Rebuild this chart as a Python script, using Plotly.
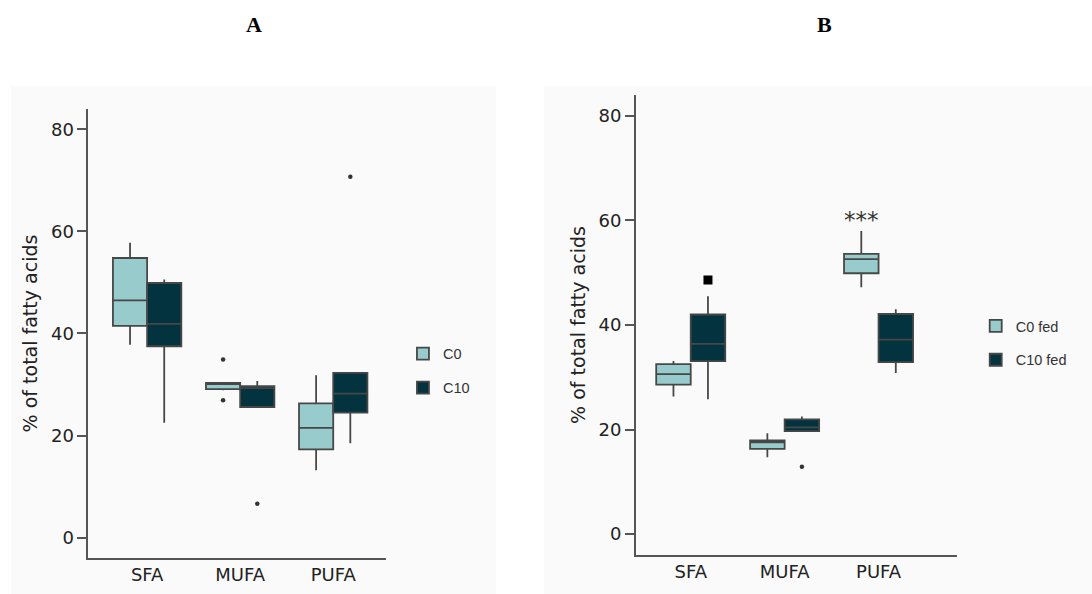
import plotly.graph_objects as go

categories = ["SFA", "MUFA", "PUFA"]
groups_a = ["C0", "C10"]
groups_b = ["C0 fed", "C10 fed"]

# Panel A  (lower fence, q1, median, q3, upper fence, outliers)
a_c0_low = [37.8, 28.9, 13.2]
a_c0_q1 = [41.5, 29.1, 17.3]
a_c0_med = [46.5, 30.1, 21.5]
a_c0_q3 = [54.8, 30.3, 26.3]
a_c0_high = [57.8, 30.3, 31.8]
a_c0_out = [[], [34.9, 26.9], []]

a_c10_low = [22.5, 25.6, 18.5]
a_c10_q1 = [37.5, 25.6, 24.5]
a_c10_med = [41.9, 29.3, 28.2]
a_c10_q3 = [49.9, 29.7, 32.3]
a_c10_high = [50.6, 30.7, 32.3]
a_c10_out = [[], [6.65], [70.7]]

# Panel B
b_c0_low = [26.3, 14.7, 47.2]
b_c0_q1 = [28.6, 16.3, 49.9]
b_c0_med = [30.6, 17.55, 52.6]
b_c0_q3 = [32.5, 17.9, 53.6]
b_c0_high = [33.1, 19.3, 58.0]
b_c0_out = [[], [], []]

b_c10_low = [25.8, 19.7, 30.8]
b_c10_q1 = [33.1, 19.7, 32.9]
b_c10_med = [36.4, 20.4, 37.2]
b_c10_q3 = [42.0, 21.95, 42.1]
b_c10_high = [45.5, 22.5, 43.0]
b_c10_out = [[48.6], [12.9], []]

sig_label = "***"
sig_value = 60.7
y_ticks = [0, 20, 40, 60, 80]

LIGHT = "#98cccc"
DARK = "#03333f"
LINE = "#474747"

fig = go.Figure()


def add_group(name, fill, low, q1, med, q3, high, outs, xa, ya, legend, square_idx=None):
    for i, cat in enumerate(categories):
        symbol = "square" if square_idx == i else "circle"
        msize = 9 if square_idx == i else 4.5
        mcolor = "#000000" if square_idx == i else "#333333"
        if outs[i]:
            kw = dict(y=[outs[i]], boxpoints="outliers", pointpos=0, jitter=0)
        else:
            kw = dict(boxpoints=False)
        fig.add_trace(go.Box(
            x=[cat], q1=[q1[i]], median=[med[i]], q3=[q3[i]],
            lowerfence=[low[i]], upperfence=[high[i]],
            name=name, legendgroup=name + legend, offsetgroup=name,
            showlegend=(i == 0), legend=legend,
            fillcolor=fill, line=dict(color=LINE, width=1.8),
            whiskerwidth=0,
            marker=dict(color=mcolor, size=msize, symbol=symbol),
            xaxis=xa, yaxis=ya, hoverinfo="skip",
            **kw,
        ))


add_group(groups_a[0], LIGHT, a_c0_low, a_c0_q1, a_c0_med, a_c0_q3, a_c0_high, a_c0_out, "x", "y", "legend")
add_group(groups_a[1], DARK, a_c10_low, a_c10_q1, a_c10_med, a_c10_q3, a_c10_high, a_c10_out, "x", "y", "legend")
add_group(groups_b[0], LIGHT, b_c0_low, b_c0_q1, b_c0_med, b_c0_q3, b_c0_high, b_c0_out, "x2", "y2", "legend2")
add_group(groups_b[1], DARK, b_c10_low, b_c10_q1, b_c10_med, b_c10_q3, b_c10_high, b_c10_out, "x2", "y2", "legend2", square_idx=0)

axis_font = dict(family="DejaVu Sans", size=18, color="#222222")
common_y = dict(range=[-4, 84], tickvals=y_ticks, showline=True, linecolor="#555555", linewidth=1.5,
                ticks="outside", ticklen=9, tickwidth=1.5, tickcolor="#555555",
                showgrid=False, zeroline=False, tickfont=axis_font,
                title=dict(text="% of total fatty acids", font=dict(family="DejaVu Sans", size=19, color="#222222"),
                           standoff=8))
common_x = dict(type="category", categoryorder="array", categoryarray=categories,
                showline=True, linecolor="#555555", linewidth=1.5, ticks="",
                showgrid=False, zeroline=False, tickfont=axis_font)

fig.update_layout(
    width=1092, height=594,
    margin=dict(l=0, r=0, t=0, b=0),
    paper_bgcolor="white", plot_bgcolor="rgba(0,0,0,0)",
    boxmode="group", boxgap=0.265, boxgroupgap=0,
    xaxis=dict(domain=[0.0808, 0.3532], range=[-0.633, 2.564], anchor="y", **common_x),
    yaxis=dict(domain=[0.0606, 0.8165], anchor="x", **common_y),
    xaxis2=dict(domain=[0.5823, 0.8766], range=[-0.584, 2.838], anchor="y2", **common_x),
    yaxis2=dict(domain=[0.0657, 0.8401], anchor="x2", **common_y),
    legend=dict(x=0.369, y=0.3758, xanchor="left", yanchor="middle", bgcolor="rgba(0,0,0,0)",
                font=dict(family="Liberation Sans", size=14.5, color="#333333"), tracegroupgap=12),
    legend2=dict(x=0.8935, y=0.4226, xanchor="left", yanchor="middle", bgcolor="rgba(0,0,0,0)",
                 font=dict(family="Liberation Sans", size=14.5, color="#333333"), tracegroupgap=12),
    shapes=[
        dict(type="rect", xref="paper", yref="paper", x0=11 / 1092, x1=496 / 1092, y0=0, y1=0.8552,
             fillcolor="#fafafa", line=dict(width=0), layer="below"),
        dict(type="rect", xref="paper", yref="paper", x0=544 / 1092, x1=1, y0=0, y1=0.8552,
             fillcolor="#fafafa", line=dict(width=0), layer="below"),
    ],
    annotations=[
        dict(text="<b>A</b>", x=254 / 1092, y=(594 - 25) / 594, xref="paper", yref="paper",
             xanchor="center", yanchor="middle",
             showarrow=False, font=dict(family="Liberation Serif", size=22, color="#000000")),
        dict(text="<b>B</b>", x=824 / 1092, y=(594 - 25) / 594, xref="paper", yref="paper",
             xanchor="center", yanchor="middle",
             showarrow=False, font=dict(family="Liberation Serif", size=22, color="#000000")),
        dict(text=sig_label, x="PUFA", y=sig_value, xref="x2", yref="y2", xshift=-17, yshift=-3,
             xanchor="center", yanchor="middle",
             showarrow=False, font=dict(family="DejaVu Sans", size=23, color="#333333")),
    ],
)

fig.write_html("out.html", config={"displayModeBar": False},
               post_script="document.body.style.margin='0px';")
